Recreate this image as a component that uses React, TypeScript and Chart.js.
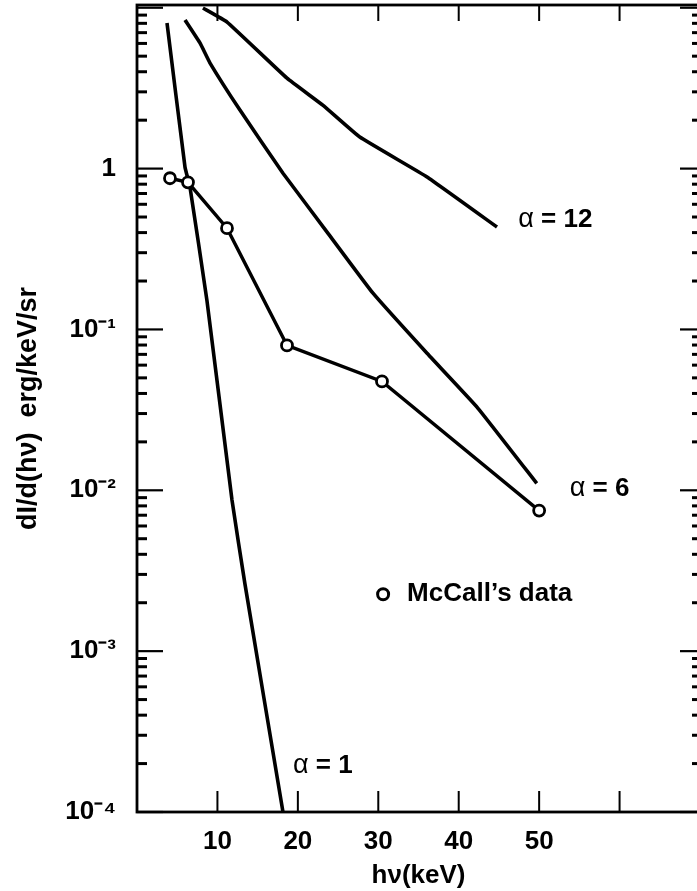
import React, { useEffect, useRef } from "react";
import { Chart, registerables } from "chart.js";
Chart.register(...registerables);

// ---- data ----
const xTickValues = [10, 20, 30, 40, 50, 60];
const xTickLabels = ["10", "20", "30", "40", "50", ""];
const yTickValues = [1e-4, 1e-3, 1e-2, 1e-1, 1];
const yTickLabels = ["10⁻⁴", "10⁻³", "10⁻²", "10⁻¹", "1"];

const alpha1X = [3.73, 5.97, 6.59, 8.7, 11.81, 13.43, 18.15];
const alpha1Y = [8.04, 1.02, 0.766, 0.151, 0.0087, 0.0026, 0.0001];

const alpha6X = [5.97, 7.83, 9.08, 12.8, 18.15, 23.75, 29.34, 36.06, 42.3, 49.7];
const alpha6Y = [8.39, 6.04, 4.53, 2.31, 0.936, 0.396, 0.168, 0.0711, 0.0328, 0.01104];

const alpha12X = [8.2, 11.2, 18.65, 23.1, 27.7, 36.06, 44.76];
const alpha12Y = [9.96, 8.15, 3.65, 2.48, 1.57, 0.887, 0.433];

const mccallX = [4.1, 6.34, 11.19, 18.65, 30.46, 50.0];
const mccallY = [0.871, 0.822, 0.426, 0.0796, 0.0475, 0.00748];

const curveLabels = [
  { num: "12", x: 47.4, y: 0.48 },
  { num: "6", x: 53.8, y: 0.0102 },
  { num: "1", x: 19.4, y: 0.000195 },
];
const legendText = "McCall’s data";
const legendPos = { x: 30.6, y: 0.00226 };

const FONT = "'Liberation Sans', Arial, Helvetica, sans-serif";
const X_MIN = 0;
const X_MAX = 70;
const Y_MIN = 1e-4;
const Y_MAX = 10.4;

const pts = (xs: number[], ys: number[]) => xs.map((x, i) => ({ x, y: ys[i] }));

const zeroPad = (s: any) => {
  s.paddingTop = 0;
  s.paddingBottom = 0;
  s.paddingLeft = 0;
  s.paddingRight = 0;
};

const framePlugin = {
  id: "frame",
  afterDatasetsDraw(chart: any) {
    const { ctx, chartArea, scales } = chart;
    const { left, right, top, bottom } = chartArea;
    const xs = scales.x;
    const ys = scales.y;
    ctx.save();
    ctx.strokeStyle = "#000";
    ctx.lineCap = "butt";
    ctx.lineWidth = 2.8;
    ctx.strokeRect(left, top, right - left, bottom - top);
    const line = (x1: number, y1: number, x2: number, y2: number) => {
      ctx.beginPath();
      ctx.moveTo(x1, y1);
      ctx.lineTo(x2, y2);
      ctx.stroke();
    };
    ctx.lineWidth = 2;
    for (const v of xTickValues) {
      const px = xs.getPixelForValue(v);
      line(px, bottom, px, bottom - 21);
      line(px, top, px, top + 16);
    }
    for (let e = -4; e <= 1; e++) {
      for (let m = 1; m <= 9; m++) {
        const v = m * Math.pow(10, e);
        if (v < Y_MIN * 0.999 || v > Y_MAX) continue;
        const py = ys.getPixelForValue(v);
        const major = m === 1;
        ctx.lineWidth = major ? 2.2 : 3;
        line(left, py, left + (major ? 26 : 10), py);
        line(right, py, right - (major ? 20 : 8), py);
      }
    }
    // curve labels
    ctx.fillStyle = "#000";
    ctx.textBaseline = "middle";
    ctx.textAlign = "left";
    for (const c of curveLabels) {
      const px = xs.getPixelForValue(c.x);
      const py = ys.getPixelForValue(c.y);
      ctx.font = `400 27px ${FONT}`;
      ctx.fillText("α", px, py);
      const w = ctx.measureText("α").width;
      ctx.font = `bold 26px ${FONT}`;
      ctx.fillText(" = " + c.num, px + w, py);
    }
    // legend
    const lx = xs.getPixelForValue(legendPos.x);
    const ly = ys.getPixelForValue(legendPos.y);
    ctx.lineWidth = 3;
    ctx.beginPath();
    ctx.arc(lx, ly, 5.5, 0, Math.PI * 2);
    ctx.fillStyle = "#fff";
    ctx.fill();
    ctx.stroke();
    ctx.fillStyle = "#000";
    ctx.font = `bold 26px ${FONT}`;
    ctx.fillText(legendText, lx + 24, ly);
    ctx.restore();
  },
};

export default function App() {
  const ref = useRef<HTMLCanvasElement | null>(null);
  useEffect(() => {
    document.body.style.margin = "0";
    const canvas = ref.current;
    if (!canvas) return;
    const lineDs = (data: any[]) => ({
      data,
      borderColor: "#000",
      borderWidth: 3.6,
      pointRadius: 0,
      tension: 0.1,
      fill: false,
      order: 1,
    });
    const chart = new Chart(canvas, {
      type: "line",
      data: {
        datasets: [
          {
            label: legendText,
            data: pts(mccallX, mccallY),
            borderColor: "#000",
            borderWidth: 3.4,
            pointRadius: 5.5,
            pointBorderWidth: 2.8,
            pointBackgroundColor: "#fff",
            pointBorderColor: "#000",
            tension: 0,
            fill: false,
            order: 0,
          } as any,
          { label: "α = 1", ...lineDs(pts(alpha1X, alpha1Y)) },
          { label: "α = 6", ...lineDs(pts(alpha6X, alpha6Y)) },
          { label: "α = 12", ...lineDs(pts(alpha12X, alpha12Y)) },
        ],
      },
      options: {
        animation: false,
        responsive: false,
        maintainAspectRatio: false,
        layout: { autoPadding: false, padding: { left: 0, right: 0, top: 5, bottom: 0 } },
        plugins: { legend: { display: false }, tooltip: { enabled: false } },
        scales: {
          x: {
            type: "linear",
            min: X_MIN,
            max: X_MAX,
            afterBuildTicks: (s: any) => {
              s.ticks = xTickValues.map((v) => ({ value: v }));
            },
            afterFit: (s: any) => {
              s.height = 79;
              zeroPad(s);
            },
            grid: { display: false, drawTicks: false },
            border: { display: false },
            ticks: {
              autoSkip: false,
              maxRotation: 0,
              padding: 14,
              color: "#000",
              font: { family: FONT, size: 26, weight: "bold" },
              callback: (v: any) => {
                const i = xTickValues.indexOf(Number(v));
                return i >= 0 ? xTickLabels[i] : "";
              },
            },
            title: {
              display: true,
              text: "hν(keV)",
              color: "#000",
              font: { family: FONT, size: 26, weight: "bold" },
              padding: { top: 0, bottom: 0 },
            },
          },
          y: {
            type: "logarithmic",
            min: Y_MIN,
            max: Y_MAX,
            afterBuildTicks: (s: any) => {
              s.ticks = yTickValues.map((v) => ({ value: v }));
            },
            afterFit: (s: any) => {
              s.width = 137;
              zeroPad(s);
            },
            grid: { display: false, drawTicks: false },
            border: { display: false },
            ticks: {
              autoSkip: false,
              padding: 21,
              color: "#000",
              font: { family: FONT, size: 26, weight: "bold" },
              callback: (v: any) => {
                const i = yTickValues.indexOf(Number(v));
                return i >= 0 ? yTickLabels[i] : "";
              },
            },
            title: {
              display: true,
              text: "dI/d(hν)  erg/keV/sr",
              color: "#000",
              font: { family: FONT, size: 27, weight: "bold" },
              padding: { top: 12, bottom: 0 },
            },
          },
        },
      },
      plugins: [framePlugin],
    } as any);
    return () => chart.destroy();
  }, []);
  return (
    <div style={{ position: "fixed", left: 0, top: 0, width: 697, height: 891, overflow: "hidden", background: "#fff" }}>
      <canvas ref={ref} width={700} height={891} style={{ display: "block" }} />
    </div>
  );
}
